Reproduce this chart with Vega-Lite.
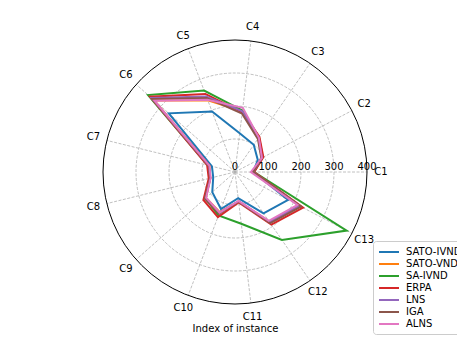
{
  "$schema": "https://vega.github.io/schema/vega-lite/v6.json",
  "width": 264,
  "height": 264,
  "autosize": {"type": "none"},
  "padding": {"left": 103, "top": 40, "right": 90, "bottom": 38},
  "config": {
    "view": {"stroke": null},
    "font": "DejaVu Sans",
    "axisX": {"domain": false, "ticks": false, "labels": false, "grid": false, "titleFontSize": 10, "titleFontWeight": "normal", "titleFont": "DejaVu Sans", "titleColor": "black", "titlePadding": 19}
  },
  "datasets": {
    "cats": [
      {"i": 1, "c": "C1"}, {"i": 2, "c": "C2"}, {"i": 3, "c": "C3"}, {"i": 4, "c": "C4"},
      {"i": 5, "c": "C5"}, {"i": 6, "c": "C6"}, {"i": 7, "c": "C7"}, {"i": 8, "c": "C8"},
      {"i": 9, "c": "C9"}, {"i": 10, "c": "C10"}, {"i": 11, "c": "C11"}, {"i": 12, "c": "C12"},
      {"i": 13, "c": "C13"}
    ],
    "series": [
      {"alg": "SATO-IVND", "i": 1, "v": 55}, {"alg": "SATO-IVND", "i": 2, "v": 78}, {"alg": "SATO-IVND", "i": 3, "v": 100},
      {"alg": "SATO-IVND", "i": 4, "v": 118}, {"alg": "SATO-IVND", "i": 5, "v": 196}, {"alg": "SATO-IVND", "i": 6, "v": 268},
      {"alg": "SATO-IVND", "i": 7, "v": 72}, {"alg": "SATO-IVND", "i": 8, "v": 68}, {"alg": "SATO-IVND", "i": 9, "v": 92},
      {"alg": "SATO-IVND", "i": 10, "v": 120}, {"alg": "SATO-IVND", "i": 11, "v": 80}, {"alg": "SATO-IVND", "i": 12, "v": 152},
      {"alg": "SATO-IVND", "i": 13, "v": 182},

      {"alg": "SATO-VND", "i": 1, "v": 55}, {"alg": "SATO-VND", "i": 2, "v": 92}, {"alg": "SATO-VND", "i": 3, "v": 125},
      {"alg": "SATO-VND", "i": 4, "v": 185}, {"alg": "SATO-VND", "i": 5, "v": 232}, {"alg": "SATO-VND", "i": 6, "v": 328},
      {"alg": "SATO-VND", "i": 7, "v": 80}, {"alg": "SATO-VND", "i": 8, "v": 77}, {"alg": "SATO-VND", "i": 9, "v": 118},
      {"alg": "SATO-VND", "i": 10, "v": 130}, {"alg": "SATO-VND", "i": 11, "v": 90}, {"alg": "SATO-VND", "i": 12, "v": 182},
      {"alg": "SATO-VND", "i": 13, "v": 222},

      {"alg": "SA-IVND", "i": 1, "v": 58}, {"alg": "SA-IVND", "i": 2, "v": 95}, {"alg": "SA-IVND", "i": 3, "v": 128},
      {"alg": "SA-IVND", "i": 4, "v": 188}, {"alg": "SA-IVND", "i": 5, "v": 264}, {"alg": "SA-IVND", "i": 6, "v": 352},
      {"alg": "SA-IVND", "i": 7, "v": 85}, {"alg": "SA-IVND", "i": 8, "v": 78}, {"alg": "SA-IVND", "i": 9, "v": 120},
      {"alg": "SA-IVND", "i": 10, "v": 141}, {"alg": "SA-IVND", "i": 11, "v": 158}, {"alg": "SA-IVND", "i": 12, "v": 250},
      {"alg": "SA-IVND", "i": 13, "v": 382},

      {"alg": "ERPA", "i": 1, "v": 58}, {"alg": "ERPA", "i": 2, "v": 97}, {"alg": "ERPA", "i": 3, "v": 130},
      {"alg": "ERPA", "i": 4, "v": 182}, {"alg": "ERPA", "i": 5, "v": 253}, {"alg": "ERPA", "i": 6, "v": 344},
      {"alg": "ERPA", "i": 7, "v": 87}, {"alg": "ERPA", "i": 8, "v": 82}, {"alg": "ERPA", "i": 9, "v": 128},
      {"alg": "ERPA", "i": 10, "v": 146}, {"alg": "ERPA", "i": 11, "v": 93}, {"alg": "ERPA", "i": 12, "v": 194},
      {"alg": "ERPA", "i": 13, "v": 233},

      {"alg": "LNS", "i": 1, "v": 55}, {"alg": "LNS", "i": 2, "v": 92}, {"alg": "LNS", "i": 3, "v": 125},
      {"alg": "LNS", "i": 4, "v": 185}, {"alg": "LNS", "i": 5, "v": 245}, {"alg": "LNS", "i": 6, "v": 338},
      {"alg": "LNS", "i": 7, "v": 82}, {"alg": "LNS", "i": 8, "v": 77}, {"alg": "LNS", "i": 9, "v": 120},
      {"alg": "LNS", "i": 10, "v": 132}, {"alg": "LNS", "i": 11, "v": 90}, {"alg": "LNS", "i": 12, "v": 184},
      {"alg": "LNS", "i": 13, "v": 220},

      {"alg": "IGA", "i": 1, "v": 55}, {"alg": "IGA", "i": 2, "v": 90}, {"alg": "IGA", "i": 3, "v": 122},
      {"alg": "IGA", "i": 4, "v": 178}, {"alg": "IGA", "i": 5, "v": 240}, {"alg": "IGA", "i": 6, "v": 334},
      {"alg": "IGA", "i": 7, "v": 82}, {"alg": "IGA", "i": 8, "v": 78}, {"alg": "IGA", "i": 9, "v": 122},
      {"alg": "IGA", "i": 10, "v": 135}, {"alg": "IGA", "i": 11, "v": 90}, {"alg": "IGA", "i": 12, "v": 188},
      {"alg": "IGA", "i": 13, "v": 226},

      {"alg": "ALNS", "i": 1, "v": 48}, {"alg": "ALNS", "i": 2, "v": 92}, {"alg": "ALNS", "i": 3, "v": 127},
      {"alg": "ALNS", "i": 4, "v": 196}, {"alg": "ALNS", "i": 5, "v": 234}, {"alg": "ALNS", "i": 6, "v": 326},
      {"alg": "ALNS", "i": 7, "v": 80}, {"alg": "ALNS", "i": 8, "v": 76}, {"alg": "ALNS", "i": 9, "v": 117},
      {"alg": "ALNS", "i": 10, "v": 132}, {"alg": "ALNS", "i": 11, "v": 88}, {"alg": "ALNS", "i": 12, "v": 180},
      {"alg": "ALNS", "i": 13, "v": 214}
    ],
    "rings": [{"r": 100}, {"r": 200}, {"r": 300}],
    "outer": [{"r": 400}],
    "rticks": [{"r": 0, "t": "0"}, {"r": 100, "t": "100"}, {"r": 200, "t": "200"}, {"r": 300, "t": "300"}, {"r": 400, "t": "400"}]
  },
  "layer": [
    {
      "data": {"name": "rings"},
      "transform": [{"calculate": "0", "as": "o"}],
      "mark": {"type": "point", "shape": "circle", "filled": false, "stroke": "#b0b0b0", "strokeWidth": 0.8, "strokeDash": [3, 1.5], "opacity": 1},
      "encoding": {
        "x": {"field": "o", "type": "quantitative", "scale": {"domain": [-400, 400], "nice": false, "zero": false}, "title": "Index of instance"},
        "y": {"field": "o", "type": "quantitative", "scale": {"domain": [-400, 400], "nice": false, "zero": false}, "axis": null},
        "size": {"field": "r", "type": "quantitative", "scale": {"type": "pow", "exponent": 2, "domain": [0, 400], "range": [0, 69696], "zero": true}, "legend": null}
      }
    },
    {
      "data": {"name": "cats"},
      "transform": [
        {"calculate": "(datum.i - 1) * 2 * PI / 13", "as": "a"},
        {"calculate": "0", "as": "o"},
        {"calculate": "400 * cos(datum.a)", "as": "ex"},
        {"calculate": "400 * sin(datum.a)", "as": "ey"}
      ],
      "mark": {"type": "rule", "stroke": "#b0b0b0", "strokeWidth": 0.8, "strokeDash": [3, 1.5]},
      "encoding": {
        "x": {"field": "o", "type": "quantitative", "scale": {"domain": [-400, 400], "nice": false, "zero": false}, "title": "Index of instance"},
        "y": {"field": "o", "type": "quantitative", "scale": {"domain": [-400, 400], "nice": false, "zero": false}, "axis": null},
        "x2": {"field": "ex"},
        "y2": {"field": "ey"}
      }
    },
    {
      "data": {"name": "outer"},
      "transform": [{"calculate": "0", "as": "o"}],
      "mark": {"type": "point", "shape": "circle", "filled": false, "stroke": "black", "strokeWidth": 1, "opacity": 1},
      "encoding": {
        "x": {"field": "o", "type": "quantitative", "scale": {"domain": [-400, 400], "nice": false, "zero": false}, "title": "Index of instance"},
        "y": {"field": "o", "type": "quantitative", "scale": {"domain": [-400, 400], "nice": false, "zero": false}, "axis": null},
        "size": {"field": "r", "type": "quantitative", "scale": {"type": "pow", "exponent": 2, "domain": [0, 400], "range": [0, 69696], "zero": true}, "legend": null}
      }
    },
    {
      "data": {"name": "series"},
      "transform": [
        {"calculate": "(datum.i - 1) * 2 * PI / 13", "as": "a"},
        {"calculate": "datum.v * cos(datum.a)", "as": "px"},
        {"calculate": "datum.v * sin(datum.a)", "as": "py"}
      ],
      "mark": {"type": "line", "interpolate": "linear-closed", "strokeWidth": 2},
      "encoding": {
        "x": {"field": "px", "type": "quantitative", "scale": {"domain": [-400, 400], "nice": false, "zero": false}, "title": "Index of instance"},
        "y": {"field": "py", "type": "quantitative", "scale": {"domain": [-400, 400], "nice": false, "zero": false}, "axis": null},
        "order": {"field": "i", "type": "quantitative"},
        "color": {
          "field": "alg", "type": "nominal",
          "scale": {
            "domain": ["SATO-IVND", "SATO-VND", "SA-IVND", "ERPA", "LNS", "IGA", "ALNS"],
            "range": ["#1f77b4", "#ff7f0e", "#2ca02c", "#d62728", "#9467bd", "#8c564b", "#e377c2"]
          },
          "legend": {
            "title": null, "orient": "none", "legendX": 270, "legendY": 201,
            "symbolType": "M-1,0H3", "symbolSize": 100, "symbolStrokeWidth": 2,
            "labelFontSize": 10, "labelFont": "DejaVu Sans", "labelColor": "black",
            "rowPadding": 1, "padding": 5, "strokeColor": "#cccccc", "fillColor": "white",
            "cornerRadius": 3, "labelOffset": 16, "labelLimit": 200
          }
        }
      }
    },
    {
      "data": {"name": "cats"},
      "transform": [
        {"calculate": "(datum.i - 1) * 2 * PI / 13", "as": "a"},
        {"calculate": "442 * cos(datum.a)", "as": "lx"},
        {"calculate": "442 * sin(datum.a)", "as": "ly"}
      ],
      "mark": {"type": "text", "fontSize": 10, "font": "DejaVu Sans", "color": "black", "align": "center", "baseline": "middle"},
      "encoding": {
        "x": {"field": "lx", "type": "quantitative", "scale": {"domain": [-400, 400], "nice": false, "zero": false}, "title": "Index of instance"},
        "y": {"field": "ly", "type": "quantitative", "scale": {"domain": [-400, 400], "nice": false, "zero": false}, "axis": null},
        "text": {"field": "c"}
      }
    },
    {
      "data": {"name": "rticks"},
      "transform": [{"calculate": "0", "as": "o"}],
      "mark": {"type": "text", "fontSize": 10, "font": "DejaVu Sans", "color": "black", "align": "center", "baseline": "alphabetic", "dy": -2},
      "encoding": {
        "x": {"field": "r", "type": "quantitative", "scale": {"domain": [-400, 400], "nice": false, "zero": false}, "title": "Index of instance"},
        "y": {"field": "o", "type": "quantitative", "scale": {"domain": [-400, 400], "nice": false, "zero": false}, "axis": null},
        "text": {"field": "t"}
      }
    }
  ]
}
